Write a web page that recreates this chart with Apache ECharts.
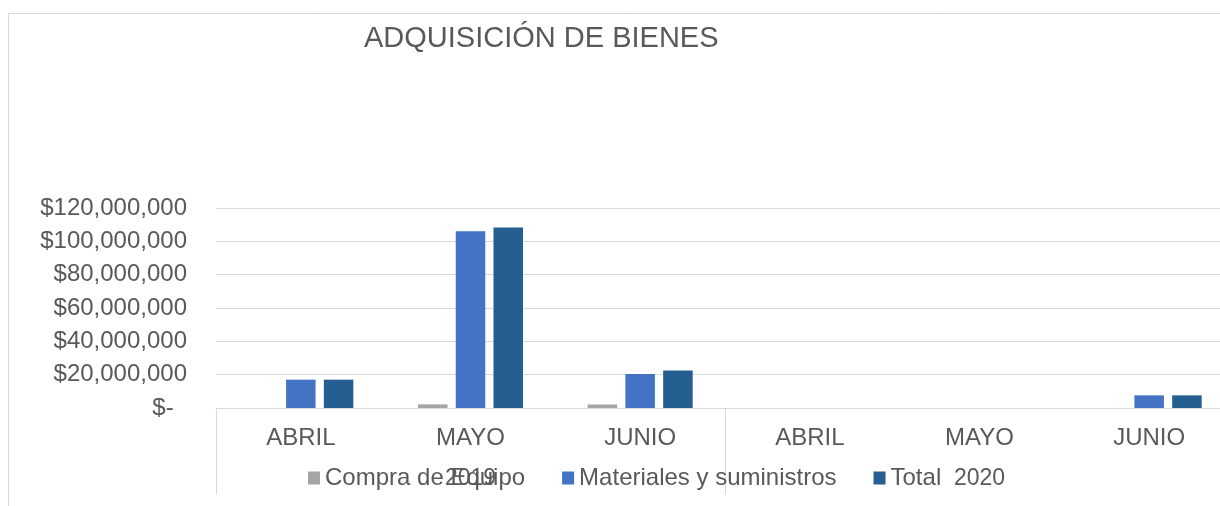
<!DOCTYPE html>
<html>
<head>
<meta charset="utf-8">
<title>Adquisición de bienes</title>
<script src="https://cdn.jsdelivr.net/npm/echarts@6/dist/echarts.min.js"></script>
<style>
  html, body { margin: 0; padding: 0; background: #fff; overflow: hidden; }
  /* the original chart runs past the right edge, so the box is wider than the window */
  #chart { width: 1250px; height: 506px; }
</style>
</head>
<body>
<div id="chart"></div>
<script>
// data
const months = ['ABRIL', 'MAYO', 'JUNIO', 'ABRIL', 'MAYO', 'JUNIO'];
const years = ['2019', '2020'];
const compraEquipo = [0, 2200000, 2100000, 0, 0, 0];
const materiales = [17000000, 106100000, 20400000, 0, 0, 7600000];
const total = [17000000, 108300000, 22500000, 0, 0, 7600000];
const yTicks = { min: 0, max: 120000000, interval: 20000000 };

const textColor = '#595959';
const lineColor = '#d9d9d9';
const font = 'Liberation Sans, Arial, sans-serif';

// accounting style money label
function money(v) {
  if (v === 0) return '$-  ';
  return '$' + v.toLocaleString('en-US');
}

const chart = echarts.init(document.getElementById('chart'));

const option = {
  animation: false,
  backgroundColor: '#fff',
  textStyle: { fontFamily: font },
  graphic: [{
    type: 'rect',
    shape: { x: 8.5, y: 13.5, width: 1300, height: 600 },
    style: { fill: 'none', stroke: lineColor, lineWidth: 1 },
    silent: true
  }],
  title: {
    text: 'ADQUISICIÓN DE BIENES',
    left: 359,
    top: 19,
    textStyle: { color: textColor, fontSize: 29, fontWeight: 'normal', fontFamily: font }
  },
  legend: {
    left: 303,
    top: 461,
    icon: 'rect',
    itemWidth: 12,
    itemHeight: 13,
    itemGap: 37,
    textStyle: { color: textColor, fontSize: 24, fontFamily: font }
  },
  grid: { left: 216, top: 208, width: 1018, height: 200 },
  xAxis: [{
    type: 'category',
    data: months,
    axisLine: { show: true, lineStyle: { color: lineColor } },
    axisTick: { show: false },
    axisLabel: { color: textColor, fontSize: 24, margin: 18, interval: 0 }
  }, {
    type: 'category',
    data: years,
    position: 'bottom',
    axisLine: { show: false },
    axisTick: { show: true, length: 86, interval: 0, lineStyle: { color: lineColor } },
    axisLabel: { color: textColor, fontSize: 23, margin: 59, interval: 0 }
  }],
  yAxis: {
    type: 'value',
    min: yTicks.min,
    max: yTicks.max,
    interval: yTicks.interval,
    axisLine: { show: false },
    axisTick: { show: false },
    splitLine: { lineStyle: { color: lineColor } },
    axisLabel: { color: textColor, fontSize: 24, margin: 29, formatter: money }
  },
  series: [{
    name: 'Compra de Equipo',
    type: 'bar',
    data: compraEquipo,
    itemStyle: { color: '#A5A5A5' },
    barWidth: 29.5,
    barGap: '28%'
  }, {
    name: 'Materiales y suministros',
    type: 'bar',
    data: materiales,
    itemStyle: { color: '#4472C4' },
    barWidth: 29.5,
    barGap: '28%'
  }, {
    name: 'Total',
    type: 'bar',
    data: total,
    itemStyle: { color: '#255E91' },
    barWidth: 29.5,
    barGap: '28%'
  }]
};

chart.setOption(option);
</script>
</body>
</html>
